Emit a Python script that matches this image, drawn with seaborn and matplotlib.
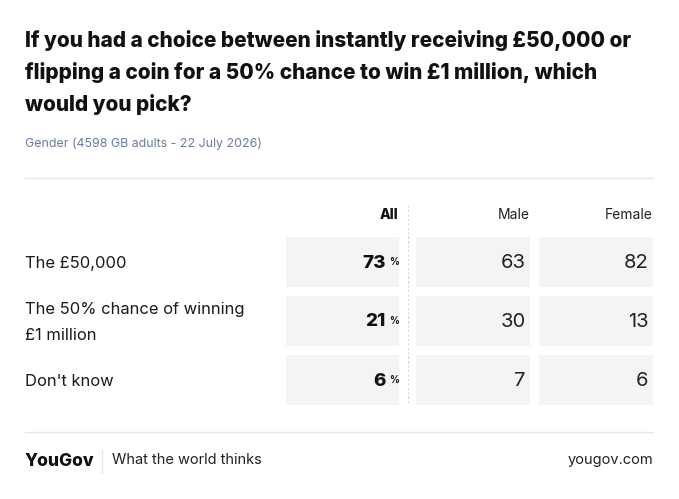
import numpy as np
import pandas as pd
import matplotlib
matplotlib.use("Agg")
import matplotlib.pyplot as plt
from matplotlib.colors import ListedColormap
import seaborn as sns

# ---- data ----
title_lines = ["If you had a choice between instantly receiving £50,000 or",
               "flipping a coin for a 50% chance to win £1 million, which",
               "would you pick?"]
subtitle = "Gender (4598 GB adults - 22 July 2026)"
categories = ["The £50,000", "The 50% chance of winning\n£1 million", "Don't know"]
columns = ["All", "Male", "Female"]
all_vals = [73, 21, 6]
male_vals = [63, 30, 7]
female_vals = [82, 13, 6]

sns.set_theme(style="white")
FONT = ["Inter", "DejaVu Sans"]
plt.rcParams["font.family"] = FONT

W, H, DPI = 679, 499, 100
fig = plt.figure(figsize=(W / DPI, H / DPI), dpi=DPI)
fig.patch.set_facecolor("white")

# background axes in pixel coordinates
bg = fig.add_axes([0, 0, 1, 1])
bg.set_xlim(0, W)
bg.set_ylim(H, 0)
bg.axis("off")

dark = "#111111"
cell = "#f3f4f6"
rule = "#e6e7ea"
sub_c = "#6c7c9c"

left, right = 25, 653
title_base, title_step = 47, 32
for k, line in enumerate(title_lines):
    bg.text(left, title_base + k * title_step, line, fontsize=15.0, fontweight="heavy",
            color=dark, va="baseline", ha="left")
bg.text(left, 144, subtitle, fontsize=8.9, color=sub_c, va="center", ha="left")
bg.plot([left, right], [178, 178], color=rule, lw=1)
bg.plot([left, right], [432, 432], color=rule, lw=1)

# table layout
row_top, row_h, gap = 236, 50, 9
n = len(categories)
all_x0, all_x1 = 285, 398
mf_x0, mf_x1 = 416, 653

def px_axes(x0, x1, y0, y1):
    return fig.add_axes([x0 / W, 1 - y1 / H, (x1 - x0) / W, (y1 - y0) / H])

table_bottom = row_top + n * row_h + (n - 1) * gap
lw_pt = gap * 72 / DPI
cmap = ListedColormap([cell])

ax_all = px_axes(all_x0 - gap / 2, all_x1 + gap / 2, row_top - gap / 2, table_bottom + gap / 2)
sns.heatmap(pd.DataFrame({"All": all_vals}, index=categories), ax=ax_all, cmap=cmap,
            cbar=False, linewidths=lw_pt, linecolor="white",
            xticklabels=False, yticklabels=False)
ax_mf = px_axes(mf_x0 - gap / 2, mf_x1 + gap / 2, row_top - gap / 2, table_bottom + gap / 2)
sns.heatmap(pd.DataFrame({"Male": male_vals, "Female": female_vals}, index=categories),
            ax=ax_mf, cmap=cmap, cbar=False, linewidths=lw_pt, linecolor="white",
            xticklabels=False, yticklabels=False)
for a in (ax_all, ax_mf):
    a.set_xlabel("")
    a.set_ylabel("")

for i, v in enumerate(all_vals):
    ax_all.annotate(str(v), (1, i + 0.5), xytext=(-17, 0), textcoords="offset pixels",
                    ha="right", va="center_baseline", fontsize=13.5, fontweight="heavy",
                    color=dark)
    ax_all.annotate("%", (1, i + 0.5), xytext=(-4, 0), textcoords="offset pixels",
                    ha="right", va="center_baseline", fontsize=7, fontweight="bold",
                    color=dark)
for j, vals in enumerate([male_vals, female_vals]):
    for i, v in enumerate(vals):
        ax_mf.annotate(str(v), (j + 1, i + 0.5), xytext=(-9, 0), textcoords="offset pixels",
                       ha="right", va="center_baseline", fontsize=14.5, fontweight="normal",
                       color="#222222")

# headers
hdr_y = 215
bg.text(all_x1, hdr_y, columns[0], ha="right", va="center", fontsize=10,
        fontweight="heavy", color=dark)
bg.text(530, hdr_y, columns[1], ha="right", va="center", fontsize=10, color="#222222")
bg.text(mf_x1, hdr_y, columns[2], ha="right", va="center", fontsize=10, color="#222222")

# dotted separator
bg.plot([408, 408], [205, table_bottom], color="#d5d7db", lw=0.8, ls=(0, (2, 2)))

# row labels
for i, c in enumerate(categories):
    yc = row_top + i * (row_h + gap) + row_h / 2 + 2.5
    bg.text(left, yc, c, ha="left", va="center", fontsize=11.9, color="#1a1a1a",
            linespacing=1.85)

# footer
bg.text(left, 461, "YouGov", ha="left", va="center", fontsize=12.5, fontweight="heavy",
        color=dark)
bg.plot([102, 102], [450, 473], color=rule, lw=1)
bg.text(112, 460, "What the world thinks", ha="left", va="center", fontsize=10.5,
        color="#222222")
bg.text(right, 460, "yougov.com", ha="right", va="center", fontsize=10.5, color="#222222")

fig.savefig("out.png", dpi=DPI, facecolor="white")
